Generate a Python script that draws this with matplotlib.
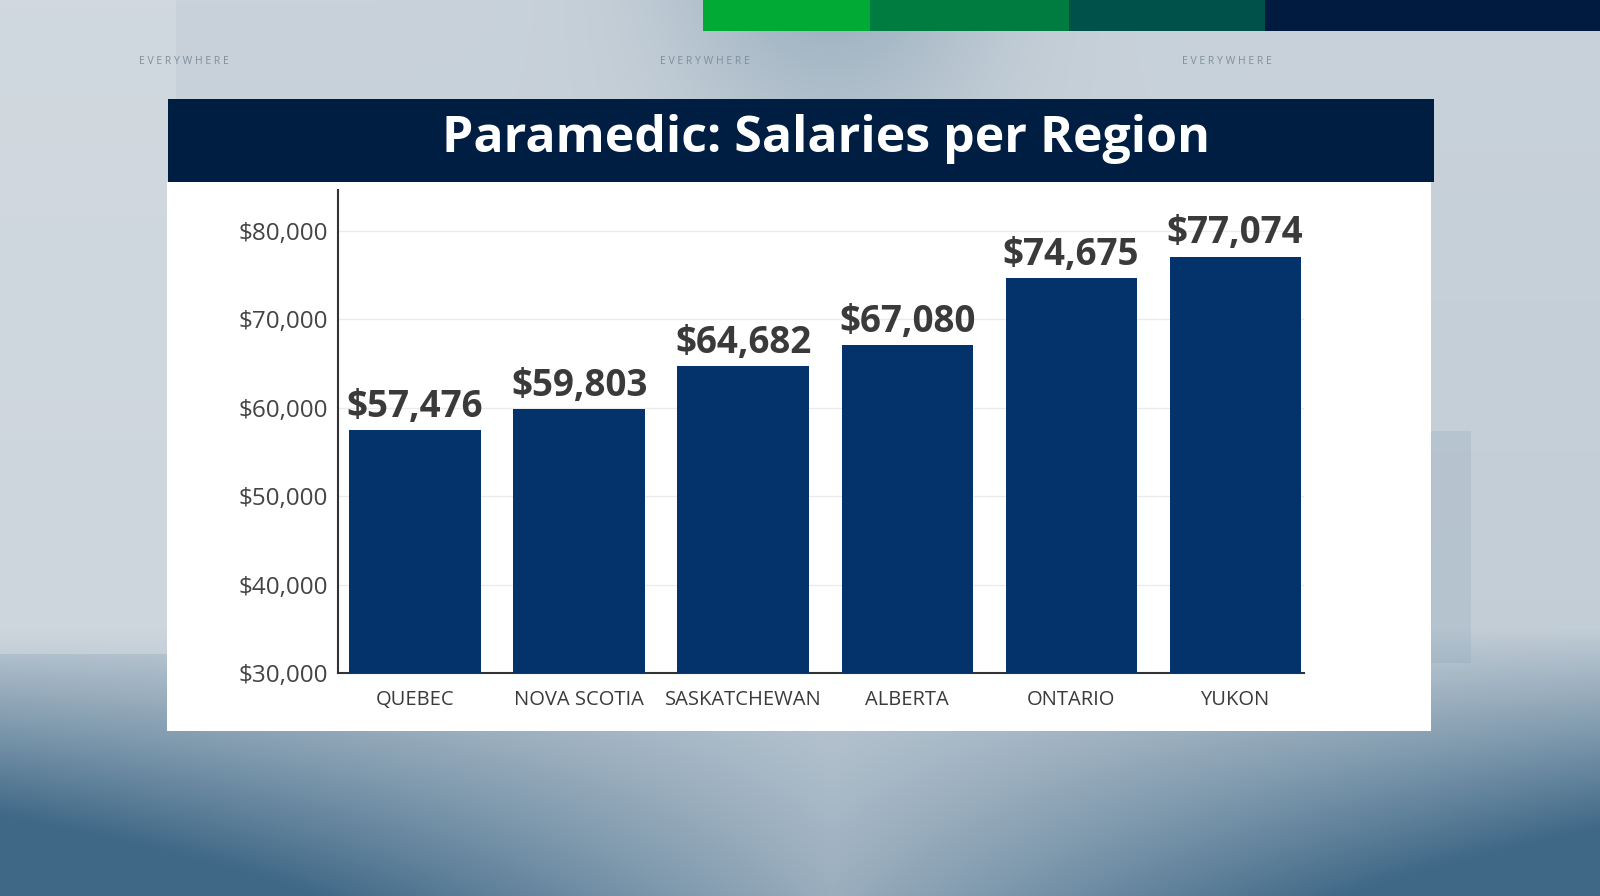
import numpy as np
import matplotlib
matplotlib.use("Agg")
import matplotlib.pyplot as plt
from matplotlib.patches import Rectangle
from matplotlib.ticker import FuncFormatter

# ---- data ----
regions = ["QUEBEC", "NOVA SCOTIA", "SASKATCHEWAN", "ALBERTA", "ONTARIO", "YUKON"]
salaries = [57476, 59803, 64682, 67080, 74675, 77074]
yticks = [30000, 40000, 50000, 60000, 70000, 80000]
title = "Paramedic: Salaries per Region"
brand = "E V E R Y W H E R E"

FONT = ["Open Sans", "DejaVu Sans"]
plt.rcParams["font.family"] = FONT

W, H = 1600, 896
fig = plt.figure(figsize=(16, 8.96), dpi=100)

# ---- background (pixel-coordinate axes) ----
bg = fig.add_axes([0, 0, 1, 1], zorder=0)
y = np.linspace(0, 1, H)[:, None]
x = np.linspace(0, 1, W)[None, :]
light = np.array([0.86, 0.88, 0.90])
dark = np.array([0.25, 0.41, 0.53])
d = np.clip((y - 0.70) / 0.30, 0, 1) * (0.25 + 0.9 * np.abs(x - 0.52) / 0.50)
d = d + 0.28 * np.exp(-((x - 0.52) / 0.10) ** 2) * np.clip(1 - y / 0.25, 0, 1)
d = d + 0.12 + 0.05 * y
d = np.where((x < 0.11) & (y < 0.73), d * 0.55, d)
d = np.clip(d, 0, 1)[..., None]
img = light * (1 - d) + dark * d
bg.imshow(img, extent=(0, W, H, 0), aspect="auto", interpolation="bilinear")
bg.set_xlim(0, W)
bg.set_ylim(H, 0)
bg.axis("off")

# top colour strips
for x0, x1, c in [(703, 870, "#00aa35"), (870, 1069, "#007c40"),
                  (1069, 1265, "#00514a"), (1265, 1600, "#001a40")]:
    bg.add_patch(Rectangle((x0, 0), x1 - x0, 31, color=c, lw=0))

# faint rectangle on the right
bg.add_patch(Rectangle((1431, 431), 40, 232, color="#7f9bb0", alpha=0.2, lw=0))

for xc in [184, 705, 1227]:
    bg.text(xc, 62, brand, ha="center", va="center", fontsize=7.5,
            color="#7d8e9c", family=FONT)

# white panel and title bar
bg.add_patch(Rectangle((167, 182), 1264, 549, color="white", lw=0))
bg.add_patch(Rectangle((168, 99), 1266, 83, color="#001d42", lw=0))
bg.text(826, 139, title, ha="center", va="center", fontsize=36,
        fontweight="bold", color="white", family=FONT)

# ---- chart ----
ax = fig.add_axes([338 / W, 1 - 673 / H, (1304 - 338) / W, (673 - 190) / H], zorder=2)
ax.patch.set_alpha(0)
pos = np.arange(len(regions))
ax.bar(pos, salaries, width=0.8, color="#03336a", zorder=3)
for p, v in zip(pos, salaries):
    ax.annotate(f"${v:,}", (p, v), xytext=(0, 3), textcoords="offset points",
                ha="center", va="bottom", fontsize=26.5, fontweight="bold",
                color="#3a3a3a", zorder=4)

ax.set_ylim(30000, 84600)
ax.set_xlim(-0.47, len(regions) - 1 + 0.42)
ax.set_yticks(yticks)
ax.yaxis.set_major_formatter(FuncFormatter(lambda v, _: f"${v:,.0f}"))
ax.set_xticks(pos)
ax.set_xticklabels(regions)
ax.tick_params(axis="y", length=0, pad=7, labelsize=17.5, labelcolor="#444444")
ax.tick_params(axis="x", length=0, pad=12, labelsize=14.5, labelcolor="#3a3a3a")
ax.grid(axis="y", color="#ebebeb", lw=1, zorder=0)
ax.set_axisbelow(True)
for s in ["top", "right"]:
    ax.spines[s].set_visible(False)
for s in ["left", "bottom"]:
    ax.spines[s].set_color("#333333")
    ax.spines[s].set_linewidth(1.5)

fig.savefig("out.png", dpi=100)
